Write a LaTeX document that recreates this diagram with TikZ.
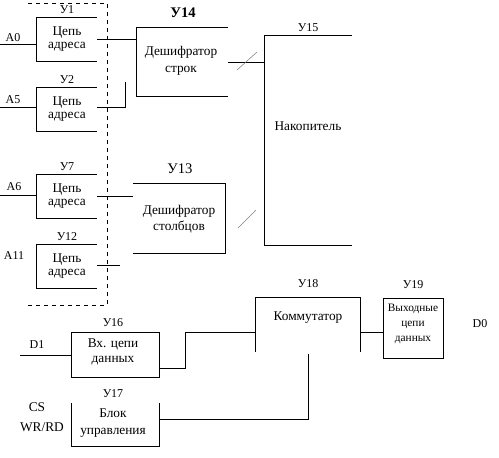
\documentclass[tikz,border=0pt]{standalone}
\usepackage{fontspec}
\setmainfont{Liberation Serif}
\begin{document}
\begin{tikzpicture}[x=0.75pt, y=-0.75pt, line width=.6pt,
  txt/.style={align=center, inner sep=0pt, font=\fontsize{10}{12.75}\selectfont},
  lbl/.style={inner sep=0pt, font=\fontsize{9}{9}\selectfont},
  slash/.style={gray, line width=.4pt}]

\useasboundingbox (0,0) rectangle (499,457);

% dashed frame round the address circuits
\draw[dashed] (28,3)--(107,3)--(107,305)--(28,305);

\foreach \t/\n in {17/1, 87/2, 174/7, 244/12}{
  \draw (97,\t)--(36,\t)--(36,\t+44)--(97,\t+44);
  \node[lbl] (u\n) at (67,\t-7) {У\n};
  \node[txt, font=\fontsize{10}{9.75}\selectfont] (cep\n) at (67,\t+22) {Цепь\\адреса};
}

\draw (0,44)--(36,44);   \node[lbl] (a0) at (13,38) {A0};
\draw (0,107)--(36,107); \node[lbl] (a5) at (13,100) {A5};
\draw (0,195)--(36,195); \node[lbl] (a6) at (14,187) {A6};
\node[lbl] (a11) at (14,256) {A11};

\draw (97,39)--(136,39);
\draw (97,107)--(125,107)--(125,82);
\draw (97,196)--(133,196);
\draw (97,265)--(120,265);

% decoders
\draw (228,27)--(136,27)--(136,96)--(228,96);
\node[font=\bfseries\fontsize{11}{11}\selectfont] (u14) at (183,13) {У14};
\node[txt] (dsh14) at (181,61) {Дешифратор\\строк};
\draw (228,62)--(264,62);
\draw[slash] (237,70)--(257,52);

\draw (133,183)--(225,183)--(225,253)--(133,253);
\node[font=\fontsize{11}{11}\selectfont] (u13) at (180,169) {У13};
\node[txt, font=\fontsize{10}{12}\selectfont] (dsh13) at (179,219) {Дешифратор\\столбцов};
\draw[slash] (238,228)--(256,210);

% memory
\draw (352,35)--(264,35)--(264,245)--(352,245);
\node[lbl] (u15) at (308,28) {У15};
\node[txt] (nak) at (308,126) {Накопитель};

% data in
\draw (71,332) rectangle (159,377);
\node[lbl] (u16) at (113,323) {У16};
\node[txt, font=\fontsize{10}{11.25}\selectfont] (vx) at (113,352) {Вх. цепи\\данных};
\draw (20,355)--(71,355); \node[lbl] (d1) at (37,345) {D1};
\draw (159,368)--(185,368)--(185,332)--(255,332);

% switch
\draw (255,352)--(255,297)--(360,297)--(360,352);
\node[lbl] (u18) at (308,284) {У18};
\node[txt] (kom) at (308,318) {Коммутатор};
\draw (308,354)--(308,419)--(159,419);
\draw (360,332)--(383,332);

% data out
\draw (383,298) rectangle (443,358);
\node[lbl] (u19) at (413,285) {У19};
\node[txt, font=\fontsize{8.5}{11}\selectfont] (vyx) at (413,324) {Выходные\\цепи\\данных};
\node[lbl] (d0) at (480,324) {D0};

% control
\draw (71,403)--(71,446)--(159,446)--(159,403);
\node[lbl] (u17) at (113,394) {У17};
\node[txt] (blok) at (113,423) {Блок\\управления};
\node[lbl, font=\fontsize{10}{10}\selectfont] (cs) at (37,407) {CS};
\node[lbl, font=\fontsize{10}{10}\selectfont] (wr) at (42,427) {WR/RD};

\end{tikzpicture}
\end{document}
